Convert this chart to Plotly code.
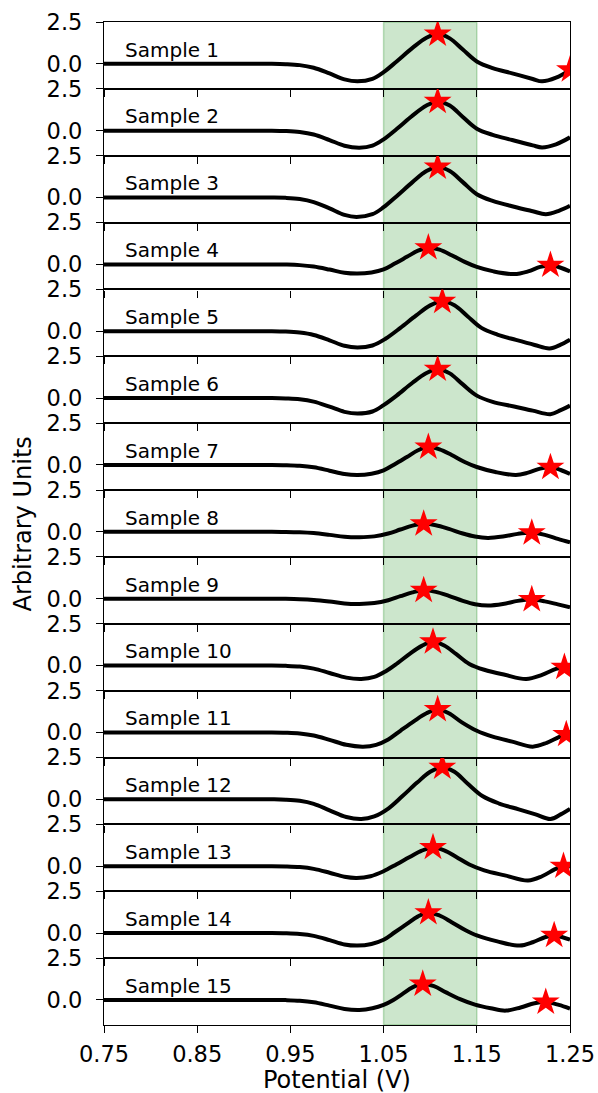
import plotly.graph_objects as go
from plotly.subplots import make_subplots

# ---------------- data ----------------
sample_names = [f"Sample {i}" for i in range(1, 16)]

x_ticks = [0.75, 0.85, 0.95, 1.05, 1.15, 1.25]
x_tick_labels = ["0.75", "0.85", "0.95", "1.05", "1.15", "1.25"]
y_ticks = [0.0, 2.5]
y_tick_labels = ["0.0", "2.5"]
band_start, band_end = 1.05, 1.15

s1_x = [0.75, 0.93, 0.945, 0.96, 0.975, 0.992, 1.008, 1.022, 1.038, 1.05, 1.064, 1.081, 1.096, 1.108, 1.121, 1.135, 1.15, 1.167, 1.188, 1.21, 1.22, 1.235, 1.25]
s1_y = [0, 0, -0.02, -0.08, -0.24, -0.58, -0.93, -1.05, -0.9, -0.5, 0.14, 0.95, 1.56, 1.78, 1.52, 0.85, 0.14, -0.26, -0.57, -0.91, -1.05, -0.83, -0.36]
s2_x = [0.75, 0.93, 0.945, 0.96, 0.975, 0.992, 1.008, 1.024, 1.038, 1.05, 1.064, 1.081, 1.096, 1.108, 1.121, 1.135, 1.15, 1.167, 1.188, 1.21, 1.22, 1.235, 1.25]
s2_y = [0, 0, -0.02, -0.08, -0.23, -0.56, -0.9, -1.02, -0.9, -0.52, 0.1, 0.9, 1.5, 1.75, 1.5, 0.82, 0.12, -0.25, -0.56, -0.88, -1.0, -0.82, -0.4]
s3_x = [0.75, 0.93, 0.945, 0.96, 0.975, 0.992, 1.008, 1.021, 1.038, 1.05, 1.064, 1.081, 1.096, 1.108, 1.121, 1.135, 1.15, 1.167, 1.19, 1.21, 1.224, 1.238, 1.25]
s3_y = [0, 0, -0.02, -0.09, -0.27, -0.65, -1.04, -1.16, -1.0, -0.58, 0.08, 0.92, 1.58, 1.82, 1.58, 0.92, 0.2, -0.2, -0.55, -0.82, -1.0, -0.8, -0.5]
s4_x = [0.75, 0.93, 0.945, 0.96, 0.975, 0.992, 1.008, 1.022, 1.037, 1.05, 1.062, 1.075, 1.087, 1.098, 1.11, 1.123, 1.137, 1.15, 1.168, 1.19, 1.205, 1.218, 1.229, 1.24, 1.25]
s4_y = [0, 0, -0.011, -0.044, -0.13, -0.31, -0.5, -0.55, -0.48, -0.3, 0.05, 0.45, 0.82, 1.0, 0.88, 0.55, 0.15, -0.15, -0.42, -0.58, -0.42, -0.15, -0.05, -0.2, -0.42]
s5_x = [0.75, 0.93, 0.945, 0.96, 0.975, 0.992, 1.008, 1.022, 1.038, 1.052, 1.068, 1.085, 1.1, 1.113, 1.126, 1.14, 1.155, 1.172, 1.192, 1.212, 1.228, 1.24, 1.25]
s5_y = [0, 0, -0.02, -0.08, -0.22, -0.54, -0.87, -0.97, -0.85, -0.45, 0.2, 0.95, 1.55, 1.79, 1.55, 0.9, 0.2, -0.2, -0.52, -0.82, -1.03, -0.8, -0.5]
s6_x = [0.75, 0.93, 0.945, 0.96, 0.975, 0.992, 1.008, 1.022, 1.038, 1.05, 1.064, 1.081, 1.096, 1.108, 1.121, 1.135, 1.15, 1.167, 1.19, 1.21, 1.229, 1.24, 1.25]
s6_y = [0, 0, -0.02, -0.07, -0.21, -0.51, -0.82, -0.92, -0.8, -0.42, 0.15, 0.92, 1.5, 1.73, 1.48, 0.82, 0.15, -0.22, -0.5, -0.75, -0.96, -0.72, -0.45]
s7_x = [0.75, 0.93, 0.945, 0.96, 0.975, 0.992, 1.008, 1.022, 1.037, 1.05, 1.062, 1.075, 1.087, 1.098, 1.11, 1.123, 1.137, 1.15, 1.17, 1.192, 1.205, 1.218, 1.229, 1.24, 1.25]
s7_y = [0, 0, -0.012, -0.048, -0.14, -0.34, -0.54, -0.6, -0.52, -0.32, 0.05, 0.48, 0.88, 1.07, 0.94, 0.6, 0.18, -0.12, -0.42, -0.6, -0.46, -0.22, -0.14, -0.3, -0.54]
s8_x = [0.75, 0.93, 0.945, 0.96, 0.975, 0.992, 1.008, 1.024, 1.04, 1.055, 1.068, 1.081, 1.093, 1.106, 1.12, 1.135, 1.148, 1.162, 1.178, 1.194, 1.209, 1.223, 1.237, 1.25]
s8_y = [0, 0, -0.006, -0.026, -0.075, -0.18, -0.29, -0.32, -0.27, -0.1, 0.14, 0.37, 0.48, 0.4, 0.18, -0.1, -0.28, -0.36, -0.28, -0.12, -0.06, -0.18, -0.42, -0.63]
s9_x = [0.75, 0.93, 0.945, 0.96, 0.975, 0.992, 1.008, 1.024, 1.04, 1.055, 1.068, 1.081, 1.093, 1.106, 1.12, 1.135, 1.148, 1.162, 1.178, 1.194, 1.209, 1.223, 1.237, 1.25]
s9_y = [0, 0, -0.006, -0.025, -0.072, -0.17, -0.28, -0.31, -0.26, -0.09, 0.15, 0.38, 0.5, 0.41, 0.17, -0.13, -0.33, -0.41, -0.32, -0.13, -0.05, -0.16, -0.34, -0.51]
s10_x = [0.75, 0.93, 0.945, 0.96, 0.975, 0.992, 1.01, 1.026, 1.04, 1.052, 1.065, 1.078, 1.091, 1.103, 1.115, 1.128, 1.142, 1.158, 1.18, 1.203, 1.22, 1.235, 1.244, 1.25]
s10_y = [0, 0, -0.015, -0.06, -0.18, -0.44, -0.72, -0.8, -0.68, -0.35, 0.15, 0.7, 1.18, 1.42, 1.2, 0.68, 0.1, -0.25, -0.55, -0.8, -0.55, -0.2, -0.1, -0.15]
s11_x = [0.75, 0.93, 0.945, 0.96, 0.975, 0.992, 1.01, 1.028, 1.042, 1.055, 1.068, 1.082, 1.096, 1.108, 1.12, 1.134, 1.15, 1.167, 1.188, 1.21, 1.225, 1.238, 1.246, 1.25]
s11_y = [0, 0, -0.015, -0.06, -0.18, -0.44, -0.74, -0.85, -0.74, -0.42, 0.1, 0.65, 1.15, 1.37, 1.15, 0.6, 0.1, -0.25, -0.55, -0.85, -0.62, -0.28, -0.12, -0.13]
s12_x = [0.75, 0.93, 0.945, 0.96, 0.975, 0.992, 1.01, 1.026, 1.04, 1.055, 1.07, 1.086, 1.1, 1.113, 1.126, 1.14, 1.156, 1.174, 1.195, 1.213, 1.229, 1.24, 1.25]
s12_y = [0, 0, -0.02, -0.09, -0.27, -0.66, -1.06, -1.18, -1.02, -0.55, 0.18, 1.0, 1.65, 1.92, 1.65, 0.95, 0.2, -0.25, -0.6, -0.9, -1.18, -0.9, -0.57]
s13_x = [0.75, 0.93, 0.945, 0.96, 0.975, 0.992, 1.008, 1.021, 1.036, 1.05, 1.064, 1.078, 1.091, 1.103, 1.115, 1.128, 1.142, 1.158, 1.18, 1.205, 1.22, 1.234, 1.243, 1.25]
s13_y = [0, 0, -0.014, -0.055, -0.16, -0.39, -0.63, -0.7, -0.6, -0.3, 0.12, 0.55, 0.93, 1.12, 0.95, 0.55, 0.1, -0.25, -0.55, -0.86, -0.6, -0.18, 0.0, -0.02]
s14_x = [0.75, 0.93, 0.945, 0.96, 0.975, 0.992, 1.008, 1.022, 1.037, 1.05, 1.062, 1.075, 1.087, 1.098, 1.11, 1.123, 1.137, 1.15, 1.172, 1.196, 1.21, 1.223, 1.233, 1.242, 1.25]
s14_y = [0, 0, -0.015, -0.06, -0.17, -0.42, -0.68, -0.75, -0.65, -0.4, 0.05, 0.55, 1.0, 1.22, 1.05, 0.65, 0.2, -0.14, -0.5, -0.75, -0.55, -0.25, -0.14, -0.25, -0.4]
s15_x = [0.75, 0.93, 0.945, 0.96, 0.975, 0.992, 1.008, 1.024, 1.038, 1.05, 1.06, 1.07, 1.081, 1.092, 1.104, 1.117, 1.132, 1.148, 1.165, 1.181, 1.197, 1.212, 1.224, 1.238, 1.25]
s15_y = [0, 0, -0.012, -0.048, -0.14, -0.34, -0.54, -0.6, -0.5, -0.3, -0.02, 0.35, 0.75, 0.95, 0.82, 0.45, 0.05, -0.28, -0.5, -0.64, -0.45, -0.2, -0.13, -0.3, -0.52]

# detected peaks (stars)
peaks_x = [[1.108, 1.25], [1.108], [1.108], [1.098, 1.229], [1.113], [1.108],
           [1.098, 1.229], [1.093, 1.209], [1.093, 1.209], [1.103, 1.244],
           [1.108, 1.246], [1.113], [1.103, 1.243], [1.098, 1.233], [1.092, 1.224]]
peaks_y = [[1.78, -0.36], [1.75], [1.82], [1.0, -0.05], [1.79], [1.73],
           [1.07, -0.14], [0.48, -0.06], [0.5, -0.05], [1.42, -0.1],
           [1.37, -0.12], [1.92], [1.12, 0.0], [1.22, -0.14], [0.95, -0.13]]

curves_x = [s1_x, s2_x, s3_x, s4_x, s5_x, s6_x, s7_x, s8_x, s9_x, s10_x,
            s11_x, s12_x, s13_x, s14_x, s15_x]
curves_y = [s1_y, s2_y, s3_y, s4_y, s5_y, s6_y, s7_y, s8_y, s9_y, s10_y,
            s11_y, s12_y, s13_y, s14_y, s15_y]

# ---------------- figure ----------------
n = len(sample_names)
FONT = "DejaVu Sans"
fig = make_subplots(rows=n, cols=1, shared_xaxes=True, vertical_spacing=0)

for i in range(n):
    r = i + 1
    fig.add_trace(go.Scatter(x=curves_x[i], y=curves_y[i], mode="lines",
                             line=dict(color="black", width=4, shape="spline", smoothing=1.0),
                             showlegend=False, hoverinfo="skip"), row=r, col=1)
    fig.add_trace(go.Scatter(x=peaks_x[i], y=peaks_y[i], mode="markers",
                             marker=dict(symbol="star", size=21, color="red", line=dict(width=0)),
                             cliponaxis=True, showlegend=False), row=r, col=1)
    fig.add_annotation(x=0.7707, y=0.85, xref=f"x{r if r > 1 else ''}", yref=f"y{r if r > 1 else ''}",
                       text=sample_names[i], showarrow=False, xanchor="left", yanchor="middle",
                       font=dict(family=FONT, size=20, color="black"))
    fig.update_xaxes(row=r, col=1, range=[0.75, 1.25], tickvals=x_ticks, ticktext=x_tick_labels,
                     showticklabels=(r == n), ticks="outside", ticklen=7, tickwidth=1.2,
                     tickcolor="black", showline=True, linecolor="black", linewidth=1.2,
                     mirror=True, showgrid=False, zeroline=False, automargin=False,
                     tickfont=dict(family=FONT, size=22.5, color="black"), ticklabelstandoff=2)
    fig.update_yaxes(row=r, col=1, range=[-1.5, 2.5], tickvals=y_ticks, ticktext=y_tick_labels,
                     ticks="outside", ticklen=7, tickwidth=1.2, tickcolor="black",
                     showline=True, linecolor="black", linewidth=1.2, mirror=True,
                     showgrid=False, zeroline=False, automargin=False,
                     tickfont=dict(family=FONT, size=22.5, color="black"), ticklabelstandoff=9)

# shaded potential window, spanning every panel
fig.add_shape(type="rect", xref="x", yref="paper", x0=band_start, x1=band_end, y0=0, y1=1,
              fillcolor="rgba(0,128,0,0.2)", line=dict(color="rgba(0,128,0,0.25)", width=1.5),
              layer="below")

fig.add_annotation(x=0.5, y=-0.055, xref="paper", yref="paper", text="Potential (V)",
                   showarrow=False, xanchor="center", yanchor="middle",
                   font=dict(family=FONT, size=24, color="black"))
fig.add_annotation(x=-0.174, y=0.5, xref="paper", yref="paper", text="Arbitrary Units",
                   showarrow=False, xanchor="center", yanchor="middle", textangle=-90,
                   font=dict(family=FONT, size=24, color="black"))

fig.update_layout(width=598, height=1093, margin=dict(l=104, r=28, t=22, b=68),
                  paper_bgcolor="white", plot_bgcolor="rgba(0,0,0,0)",
                  font=dict(family=FONT, color="black"))

fig.write_html("out.html", config={"displayModeBar": False},
               post_script="document.body.style.margin='0';document.body.style.overflow='hidden';")
